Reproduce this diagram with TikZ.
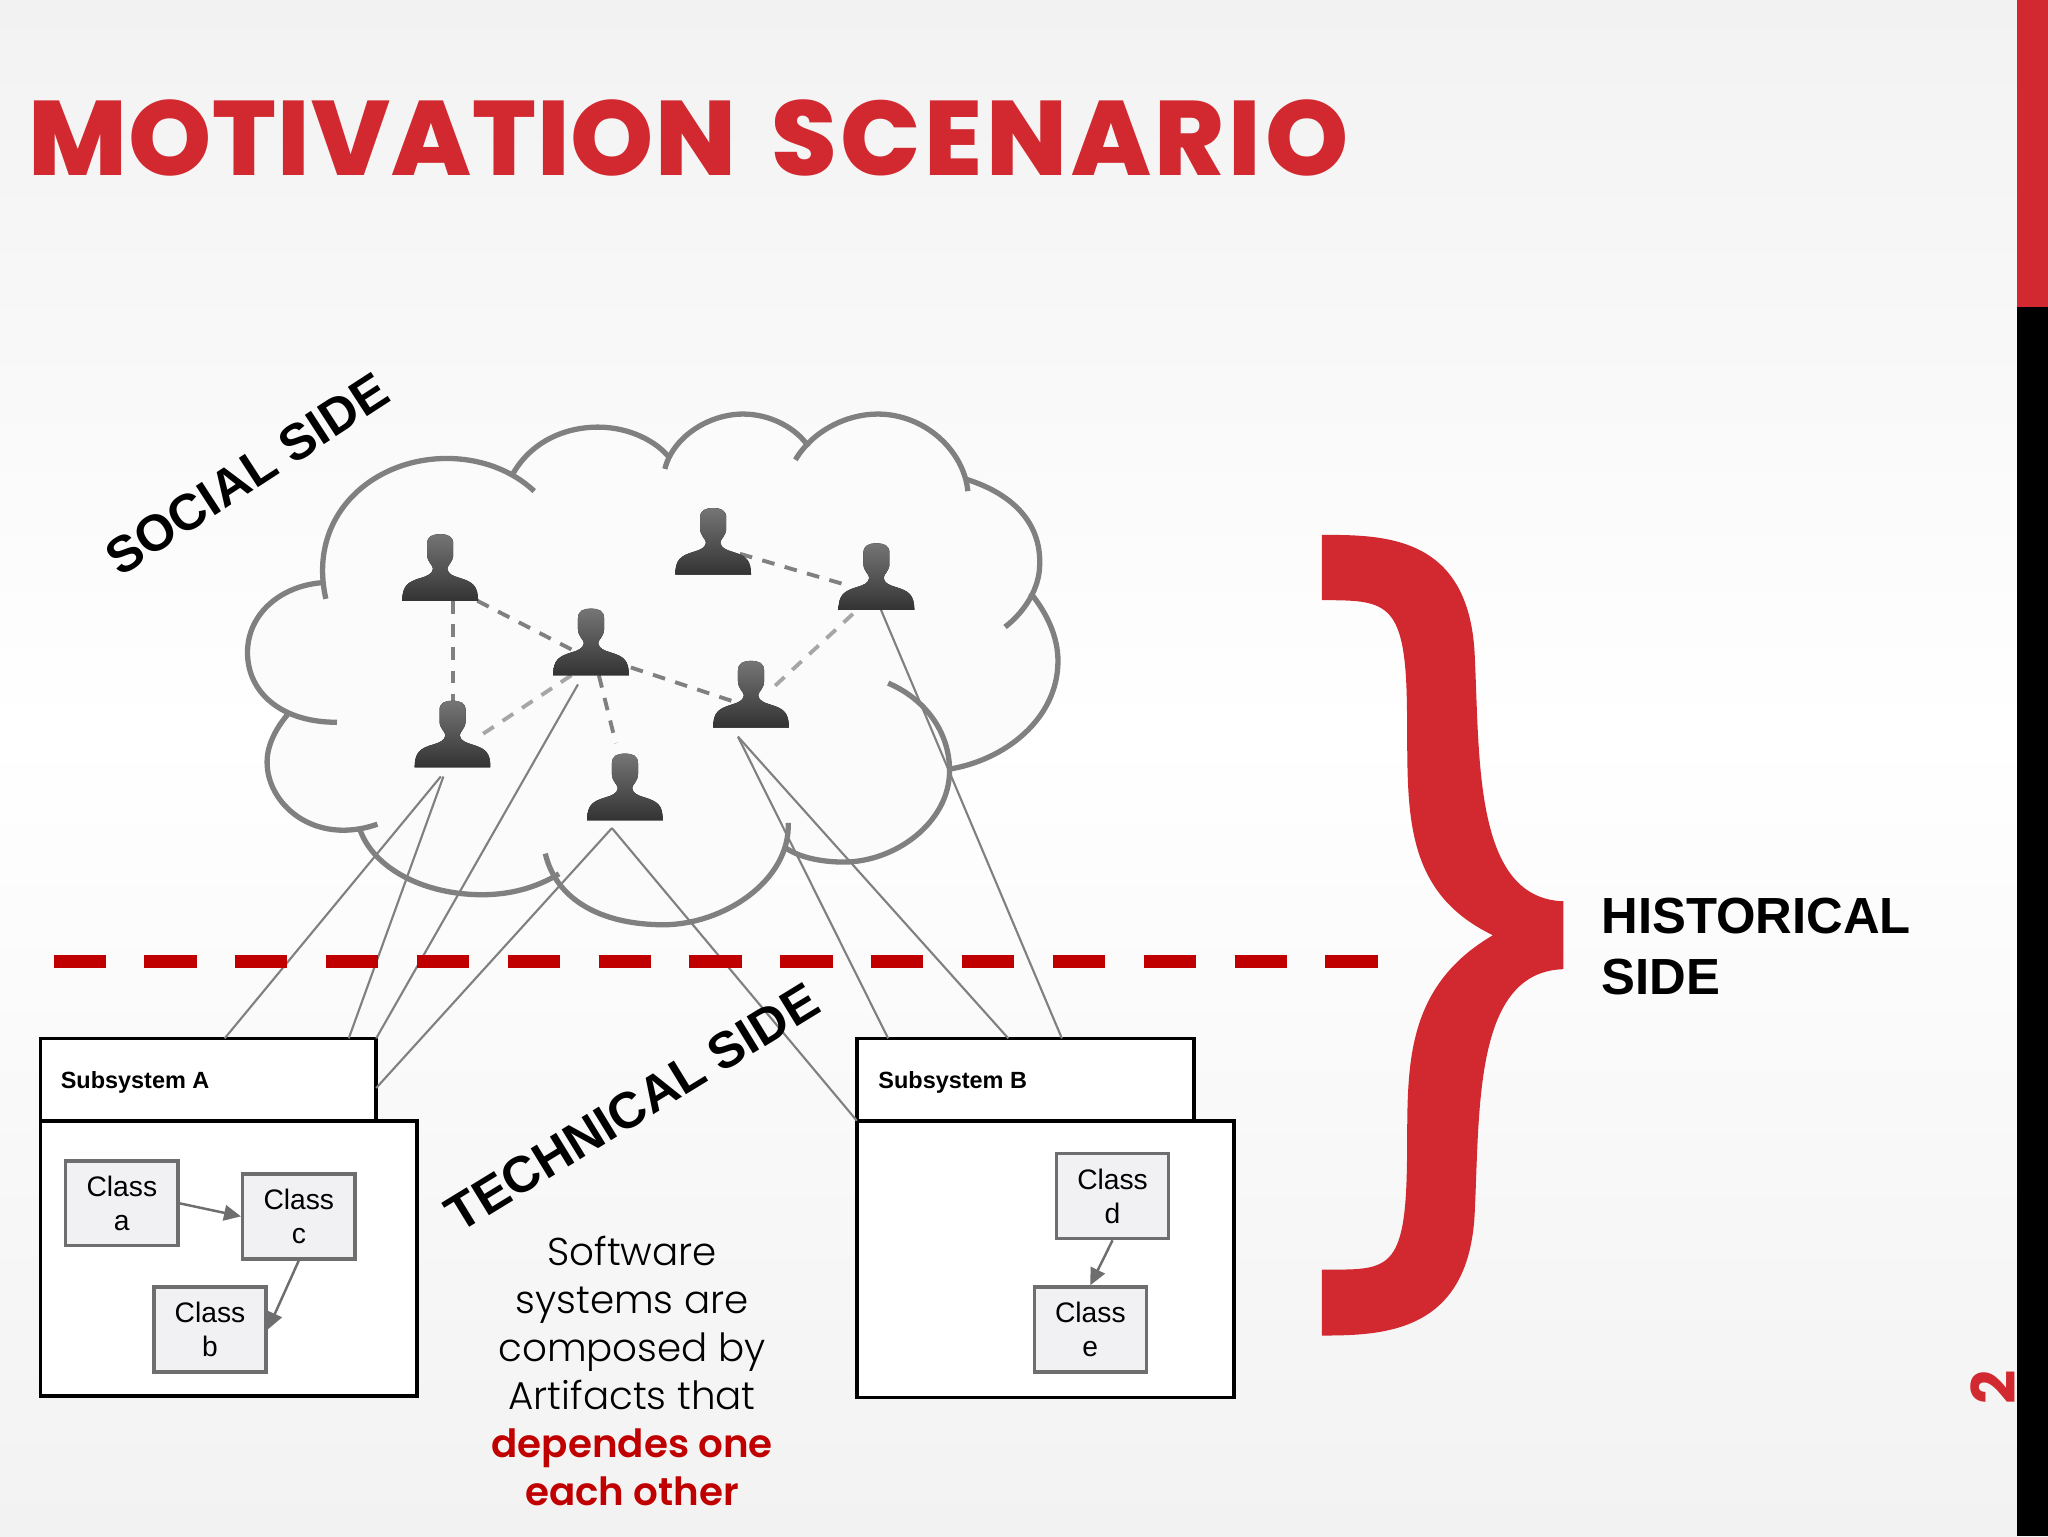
\documentclass[tikz,border=0pt]{standalone}
\usepackage{fontspec}
\setmainfont{Liberation Sans}
\newfontfamily\titlefontA{Poppins}[UprightFont={* ExtraBold},LetterSpace=1]
\newfontfamily\titlefontB{Poppins}[UprightFont={* ExtraBold},LetterSpace=3.6]
\newfontfamily\numfont{Poppins}[UprightFont={* Bold}]
\newfontfamily\bodylight{Poppins}[UprightFont={* Light},BoldFont={* SemiBold}]
\usetikzlibrary{arrows.meta,calc}
\definecolor{slidered}{HTML}{D2282F}
\definecolor{deepred}{HTML}{C00000}
\definecolor{linegray}{HTML}{808080}
\definecolor{softgray}{HTML}{A6A6A6}
\definecolor{boxgray}{HTML}{6E6E6E}
\definecolor{boxfill}{HTML}{F1F1F3}
\definecolor{cloudfill}{HTML}{FBFBFC}
\definecolor{bgtop}{HTML}{F2F2F2}
\definecolor{headgray}{HTML}{757575}
\definecolor{bodydark}{HTML}{333333}
\tikzset{
  cloudarc/.style={draw=linegray,line width=1.5pt,line cap=butt},
  tie/.style={draw=linegray,line width=1.1pt,dash pattern=on 3.6pt off 3pt},
  softtie/.style={draw=softgray,line width=1.1pt,dash pattern=on 3.6pt off 3pt},
  trace/.style={draw=linegray,line width=0.6pt},
  personbox/.style={minimum width=57\myu,minimum height=51\myu,inner sep=0pt,outer sep=0pt},
  pkg/.style={draw=black,fill=white,line width=1.05pt,inner sep=0pt,outer sep=0pt},
  classbox/.style={draw=boxgray,fill=boxfill,line width=0.95pt,minimum width=86\myu,minimum height=65\myu,inner sep=0pt,align=center,font=\fontsize{8}{9.6}\selectfont},
  dep/.style={draw=boxgray,line width=0.7pt,-{Triangle[length=4.8pt,width=4.4pt]}},
  side/.style={font=\fontsize{14.4}{17.4}\selectfont\bfseries,inner sep=0pt},
}
\newlength{\myu}
\setlength{\myu}{0.37023pt}
\newcommand{\personshape}[1]{%
  \begin{scope}[shift={(#1)}]
    \fill[top color=headgray,bottom color=bodydark]
      (-29,25.5) .. controls (-29,14) and (-25,11) .. (-15,8)
      .. controls (-10,6.5) and (-6,5) .. (-5.5,1)
      .. controls (-5.5,-2) and (-10,-4) .. (-10,-10)
      -- (-10,-18)
      .. controls (-10,-24) and (-6,-25.5) .. (0,-25.5)
      .. controls (6,-25.5) and (10,-24) .. (10,-18)
      -- (10,-10)
      .. controls (10,-4) and (5.5,-2) .. (5.5,1)
      .. controls (6,5) and (10,6.5) .. (15,8)
      .. controls (25,11) and (29,14) .. (29,25.5) -- cycle;
  \end{scope}}
\begin{document}
\begin{tikzpicture}[x=0.37023pt,y=-0.37023pt]
\useasboundingbox (0,0) rectangle (1568,1176);
% background
\fill[top color=bgtop,bottom color=white] (0,0) rectangle (1568,560);
\fill[top color=white,bottom color=bgtop] (0,560) rectangle (1568,1176);
% title and page number
\node[anchor=base west,inner sep=0pt,text=slidered,font=\fontsize{30}{30}\selectfont] (title) at (21,134) {{\titlefontA MOTIVATION}\hspace{1.6pt} {\titlefontB SCENARIO}};
\node[rotate=90,anchor=center,inner sep=0pt,text=slidered,font=\numfont\fontsize{17}{17}\selectfont] (pageno) at (1526,1062) {2};
\fill[slidered] (1544,0) rectangle (1568,235);
\fill[black] (1544,235) rectangle (1568,1176);
% cloud interior
\fill[cloudfill] (249,458) .. controls (235,395) and (285,351) .. (342,351)
  .. controls (362,351) and (378,355) .. (392,364)
  .. controls (405,340) and (430,327) .. (458,327)
  .. controls (482,327) and (500,335) .. (511,350)
  .. controls (525,327) and (548,317) .. (569,317)
  .. controls (590,317) and (606,325) .. (617,340)
  .. controls (630,325) and (650,317) .. (672,317)
  .. controls (708,317) and (735,340) .. (740,367)
  .. controls (775,378) and (797,400) .. (796,432)
  .. controls (796,440) and (794,447) .. (789,454)
  .. controls (802,470) and (810,488) .. (810,506)
  .. controls (810,550) and (770,582) .. (726,589)
  .. controls (720,630) and (685,660) .. (646,660)
  .. controls (630,660) and (612,656) .. (604,650)
  .. controls (595,685) and (553,708) .. (508,708)
  .. controls (470,708) and (440,695) .. (428,669)
  .. controls (410,680) and (390,685) .. (369,685)
  .. controls (325,685) and (285,665) .. (275,634)
  .. controls (235,640) and (204,615) .. (204.5,583)
  .. controls (204.5,570) and (212,556) .. (222,545)
  .. controls (200,540) and (189.5,520) .. (189.5,499.5)
  .. controls (189.5,470) and (215,448) .. (248,446) -- cycle;
% cloud outline
\path[cloudarc] (249.5,458.5) .. controls (235,395) and (285,351) .. (342,351) .. controls (368,351) and (392,360) .. (409,376);
\path[cloudarc] (392,364) .. controls (405,340) and (430,327) .. (458,327) .. controls (482,327) and (503,338) .. (513,351);
\path[cloudarc] (509,359) .. controls (515,335) and (542,317) .. (569,317) .. controls (590,317) and (610,328) .. (619,342);
\path[cloudarc] (609,352) .. controls (622,330) and (648,317) .. (672,317) .. controls (708,317) and (738,345) .. (741,376);
\path[cloudarc] (740,367) .. controls (775,378) and (797,400) .. (796,432) .. controls (796,450) and (785,468) .. (769.5,480);
\path[cloudarc] (789,454) .. controls (802,470) and (810,488) .. (810,506) .. controls (810,550) and (770,582) .. (726,589);
\path[cloudarc] (680,523) .. controls (708,535) and (727,560) .. (727,590) .. controls (727,630) and (685,660) .. (646,660) .. controls (628,660) and (610,656) .. (600,648);
\path[cloudarc] (603.5,630) .. controls (605,675) and (553,708) .. (508,708) .. controls (462,708) and (426,690) .. (417.5,653.5);
\path[cloudarc] (428,669) .. controls (410,680) and (390,685) .. (369,685) .. controls (325,685) and (285,665) .. (275,633.5);
\path[cloudarc] (289,631) .. controls (240,648) and (204,615) .. (204.5,583) .. controls (204.5,570) and (212,556) .. (222,545);
\path[cloudarc] (258,553) .. controls (215,553) and (189.5,530) .. (189.5,499.5) .. controls (189.5,470) and (215,448) .. (248,446);
% people (names only; silhouettes drawn after the links)
\node[personbox] (p1) at (337,434.5) {};
\node[personbox] (p2) at (546,414.5) {};
\node[personbox] (p3) at (671,441.5) {};
\node[personbox] (p4) at (452.5,491.5) {};
\node[personbox] (p5) at (575,531.5) {};
\node[personbox] (p6) at (346.5,562) {};
\node[personbox] (p7) at (478.5,602.5) {};
% subsystems
\node[pkg,minimum width=257\myu,minimum height=63\myu,anchor=north west] (tabA) at (31,795) {};
\node[pkg,minimum width=288\myu,minimum height=211\myu,anchor=north west] (bodyA) at (31,858) {};
\node[pkg,minimum width=258\myu,minimum height=63\myu,anchor=north west] (tabB) at (656,795) {};
\node[pkg,minimum width=289\myu,minimum height=212\myu,anchor=north west] (bodyB) at (656,858) {};
\node[anchor=base west,inner sep=0pt,font=\fontsize{6.65}{8}\selectfont\bfseries] (labA) at (46,833) {Subsystem A};
\node[anchor=base west,inner sep=0pt,font=\fontsize{6.65}{8}\selectfont\bfseries] (labB) at (672,833) {Subsystem B};
% classes
\node[classbox,anchor=north west] (ca) at (49,887.5) {Class\\a};
\node[classbox,anchor=north west] (cc) at (184.5,897.5) {Class\\c};
\node[classbox,anchor=north west] (cb) at (116.5,984) {Class\\b};
\node[classbox,anchor=north west] (cd) at (807.5,882) {Class\\d};
\node[classbox,anchor=north west] (ce) at (790.5,984) {Class\\e};
\draw[dep] (ca.east) -- (cc.west);
\draw[dep] (cc.south) -- (cb.east);
\draw[dep] (cd.south) -- (ce.north);
% traces from people to subsystems
\draw[trace] ($(p6.south)+(-9,7)$) -- ($(tabA.north west)+(141,0)$);
\draw[trace] ($(p6.south)+(-7,7)$) -- ($(tabA.north west)+(236,0)$);
\draw[trace] ($(p4.south)+(-10,7)$) -- (tabA.north east);
\draw[trace] ($(p7.south)+(-10,6)$) -- ($(tabA.north east)+(0,38)$);
\draw[trace] ($(p7.south)+(-10,6)$) -- (bodyB.north west);
\draw[trace] ($(p5.south)+(-10,7)$) -- ($(tabB.north west)+(24,0)$);
\draw[trace] ($(p5.south)+(-10,7)$) -- ($(tabB.north west)+(116,0)$);
\draw[trace] ($(p3.south)+(1,-6)$) -- ($(tabB.north west)+(157,0)$);
% social ties
\draw[tie] (p1.south -| p6.north) -- (p6.north);
\draw[tie] (p1.south east) -- ($(p4)+(-13.5,6.5)$);
\draw[tie] ($(p2)+(20.5,9.5)$) -- ($(p3)+(-22.5,6.5)$);
\draw[softtie] ($(p3)+(-18,28.5)$) -- ($(p5)+(15.5,-3.8)$);
\draw[tie] ($(p4)+(30.5,19.5)$) -- ($(p5)+(-10.5,6.5)$);
\draw[softtie] ($(p4.south)+(-15,0)$) -- ($(p6)+(21.5,1)$);
\draw[tie] ($(p4.south)+(6,0)$) -- ($(p7.north)+(-7,-8)$);
% silhouettes
\personshape{p1}\personshape{p2}\personshape{p3}\personshape{p4}\personshape{p5}\personshape{p6}\personshape{p7}
% divider
\draw[draw=deepred,line width=3.7pt,dash pattern=on 14.8pt off 10.95pt] (41,736) -- (1056,736);
% brace
\fill[slidered] (1012,409.5) .. controls (1060,409.5) and (1124,410) .. (1129,500)
  .. controls (1133,580) and (1128,688) .. (1197,690) -- (1197,742)
  .. controls (1128,744) and (1133,850) .. (1129,930)
  .. controls (1124,1020) and (1060,1022.5) .. (1012,1022.5) -- (1012,972)
  .. controls (1060,972) and (1075,975) .. (1077,900)
  .. controls (1079,830) and (1068,760) .. (1143,716)
  .. controls (1068,680) and (1079,610) .. (1077,532)
  .. controls (1075,460) and (1060,459.5) .. (1012,459.5) -- cycle;
% labels
\node[side,anchor=north west,align=left] (hist) at (1225.5,687) {HISTORICAL\\SIDE};
\node[side,rotate=33,anchor=center] (soc) at (189,363) {SOCIAL SIDE};
\node[side,rotate=31.5,anchor=center] (tec) at (484,848) {TECHNICAL SIDE};
\node[align=center,inner sep=0pt,font=\bodylight\fontsize{11}{13.6}\selectfont] (body) at (484,1049.5)
  {Software\\systems are\\composed by\\Artifacts that\\\textcolor{deepred}{\bfseries dependes one}\\\textcolor{deepred}{\bfseries each other}};
\end{tikzpicture}
\end{document}
